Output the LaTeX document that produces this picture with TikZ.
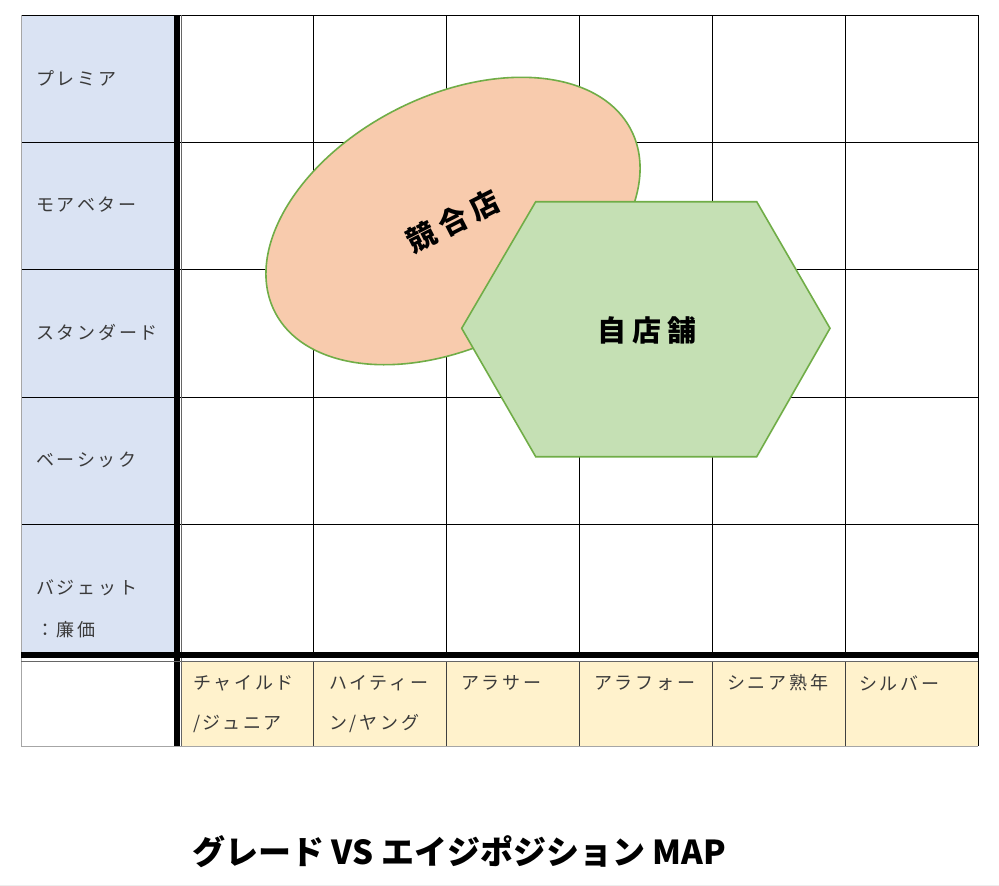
\documentclass[tikz,border=0pt]{standalone}
\usepackage{fontspec}
\setmainfont{Noto Sans CJK JP}
\newfontfamily\lab[LetterSpace=15]{Noto Sans CJK JP}
\newfontfamily\bigjp[LetterSpace=22]{Noto Sans CJK JP}
\usetikzlibrary{shapes.geometric}
\definecolor{blu}{HTML}{DAE3F3}
\definecolor{yel}{HTML}{FFF2CC}
\definecolor{org}{HTML}{F8CBAD}
\definecolor{grn}{HTML}{70AD47}
\definecolor{lgrn}{HTML}{C5E0B4}
\definecolor{txt}{HTML}{3A3A3A}
\definecolor{edge}{HTML}{A6A6A6}
\begin{document}
\begin{tikzpicture}[x=1pt,y=-1pt,
  lbl/.style={anchor=west, text=txt, inner sep=0pt, font=\lab\fontsize{18}{18}\selectfont},
  gridline/.style={draw=black, line width=0.8pt},
  celline/.style={draw=black!75, line width=0.8pt},
  outer/.style={draw=edge, line width=1pt},
  shapeline/.style={draw=grn, line width=1.6pt},
  bigtxt/.style={font=\bigjp\bfseries\fontsize{29}{29}\selectfont}]
\useasboundingbox (0,0) rectangle (999,886);
\fill[white] (0,0) rectangle (999,886);
\fill[black!7] (0,884.5) rectangle (999,886);
% fills
\fill[blu] (21,15) rectangle (174,652);
\fill[yel] (181,661) rectangle (978,746);
% grid
\foreach \i in {1,...,5} \draw[gridline] ({181+\i*132.833},15) -- ({181+\i*132.833},652);
\foreach \i in {1,...,5} \draw[celline] ({181+\i*132.833},661) -- ({181+\i*132.833},746);
\foreach \j in {1,...,4} \draw[gridline] (21,{15+\j*127.4}) -- (978,{15+\j*127.4});
% outer borders
\draw[gridline] (21,15) -- (978,15);
\draw[gridline] (978,15) -- (978,746);
\draw[outer] (21,15) -- (21,746) -- (978,746);
% thick separators
\draw[line width=6.5pt] (177,15) -- (177,746);
\draw[black!60, line width=0.8pt] (181.5,15) -- (181.5,746);
\draw[line width=6.5pt] (21,655) -- (978,655);
\draw[black!60, line width=0.8pt] (21,661) -- (978,661);
% row labels
\node[lbl] (r1) at (36,78) {プレミア};
\node[lbl] (r2) at (36,205) {モアベター};
\node[lbl] (r3) at (36,332) {スタンダード};
\node[lbl] (r4) at (36,460) {ベーシック};
\node[lbl] (r5a) at (36,588) {バジェット};
\node[lbl] (r5b) at (36,630) {：廉価};
% column labels
\node[lbl] (c1a) at (193,683) {チャイルド};
\node[lbl] (c1b) at (193,724) {/ジュニア};
\node[lbl] (c2a) at (329,683) {ハイティー};
\node[lbl] (c2b) at (329,724) {ン/ヤング};
\node[lbl] (c3) at (461,683) {アラサー};
\node[lbl] (c4) at (594,683) {アラフォー};
\node[lbl] (c5) at (727,683) {シニア熟年};
\node[lbl] (c6) at (859,683) {シルバー};
% competitor ellipse
\node[ellipse, shapeline, fill=org, minimum width=400pt, minimum height=250pt,
      rotate=27, inner sep=0pt, bigtxt] (comp) at (453,221) {競合店};
% own store hexagon
\draw[shapeline, fill=lgrn] (461.7,328.3) -- (535.7,201.7) -- (756.7,201.7)
  -- (830,328.3) -- (756.7,456.7) -- (535.7,456.7) -- cycle;
\node[bigtxt] (own) at (647,330) {自店舗};
% title
\node[font=\bfseries\fontsize{33}{33}\selectfont] (title) at (459,852) {グレード VS エイジポジション MAP};
\end{tikzpicture}
\end{document}
